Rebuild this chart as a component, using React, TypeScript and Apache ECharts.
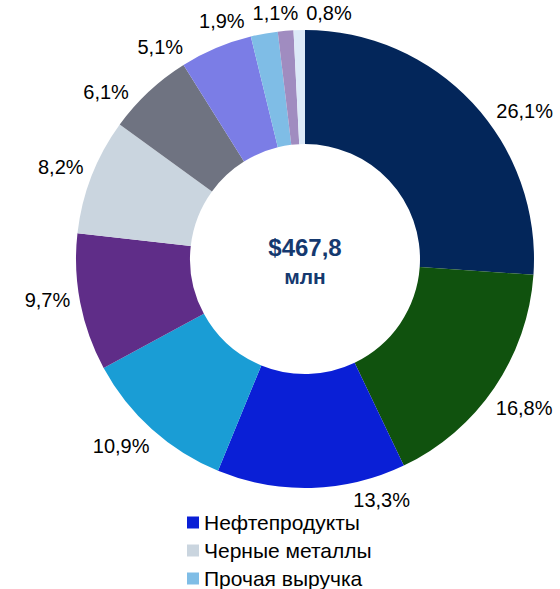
import React, { useEffect, useRef } from "react";
import * as echarts from "echarts";

const categories = [
  "Сырая нефть",
  "Природный газ",
  "Нефтепродукты",
  "Химическая продукция",
  "Машины и оборудование",
  "Черные металлы",
  "Цветные металлы",
  "Продовольствие",
  "Прочая выручка",
  "Услуги",
  "Прочее",
];
const values = [26.1, 16.8, 13.3, 10.9, 9.7, 8.2, 6.1, 5.1, 1.9, 1.1, 0.8];
const legendItems = ["Нефтепродукты", "Черные металлы", "Прочая выручка"];
const centerTitle = "$467,8";
const centerSub = "млн";

const COLORS = [
  "#03265a",
  "#10520e",
  "#0a1fd6",
  "#1a9dd5",
  "#5f2d88",
  "#cad5df",
  "#6f7381",
  "#7b7de6",
  "#7fbde6",
  "#a08cc0",
  "#dce9f8",
];
// angular nudges (degrees) applied to label placement, as in the original layout
const LABEL_NUDGE = [9, 0, -16, 2.5, 2, -0.5, -7, -11.5, -9, -2, 7];

const CX = 305;
const CY = 259;
const R_IN = 115;
const R_OUT = 229;
const GAP = 8;
const FONT = "'Liberation Sans', Arial, sans-serif";

export default function App() {
  const ref = useRef<HTMLDivElement>(null);
  useEffect(() => {
    document.body.style.margin = "0";
    if (!ref.current) return;
    const chart = echarts.init(ref.current, null, { renderer: "svg" });
    const total = values.reduce((a, b) => a + b, 0);
    const cum: number[] = [];
    let acc = 0;
    values.forEach((v) => {
      cum.push(acc);
      acc += v;
    });
    const fmt = (v: number) => v.toFixed(1).replace(".", ",") + "%";

    chart.setOption({
      animation: false,
      backgroundColor: "#ffffff",
      textStyle: { fontFamily: FONT },
      legend: {
        data: legendItems,
        orient: "vertical",
        left: 187,
        top: 512,
        height: 90,
        padding: 0,
        icon: "rect",
        itemWidth: 12,
        itemHeight: 12,
        itemGap: 7,
        selectedMode: false,
        textStyle: { fontSize: 21, color: "#000", fontFamily: FONT },
      },
      graphic: [
        {
          type: "text",
          x: CX,
          y: 247,
          style: {
            text: centerTitle,
            fill: "#15396f",
            font: `bold 24px ${FONT}`,
            textAlign: "center",
            textVerticalAlign: "middle",
          },
        },
        {
          type: "text",
          x: CX,
          y: 276,
          style: {
            text: centerSub,
            fill: "#15396f",
            font: `bold 21px ${FONT}`,
            textAlign: "center",
            textVerticalAlign: "middle",
          },
        },
      ],
      series: [
        {
          type: "pie",
          center: [CX, CY],
          radius: [R_IN, R_OUT],
          startAngle: 90,
          clockwise: true,
          avoidLabelOverlap: false,
          color: COLORS,
          itemStyle: { borderWidth: 0 },
          emphasis: { disabled: true },
          label: {
            show: true,
            position: "outside",
            formatter: (p: any) => fmt(p.value),
            fontSize: 20,
            color: "#000",
            fontFamily: FONT,
          },
          labelLine: { show: false, length: 5, length2: 0 },
          labelLayout: (params: any) => {
            const i = params.dataIndex;
            const mid = ((cum[i] + values[i] / 2) / total) * 360 + LABEL_NUDGE[i];
            const rad = (mid * Math.PI) / 180;
            const s = Math.sin(rad);
            const c = Math.cos(rad);
            const hw = params.labelRect.width / 2;
            const hh = 8;
            const d = R_OUT + GAP + Math.abs(s) * hw + Math.abs(c) * hh;
            return { x: CX + d * s, y: CY - d * c, align: "center", verticalAlign: "middle" };
          },
          data: categories.map((name, i) => ({ name, value: values[i] })),
        },
      ],
    });
    return () => chart.dispose();
  }, []);
  return <div ref={ref} style={{ width: 560, height: 589 }} />;
}
